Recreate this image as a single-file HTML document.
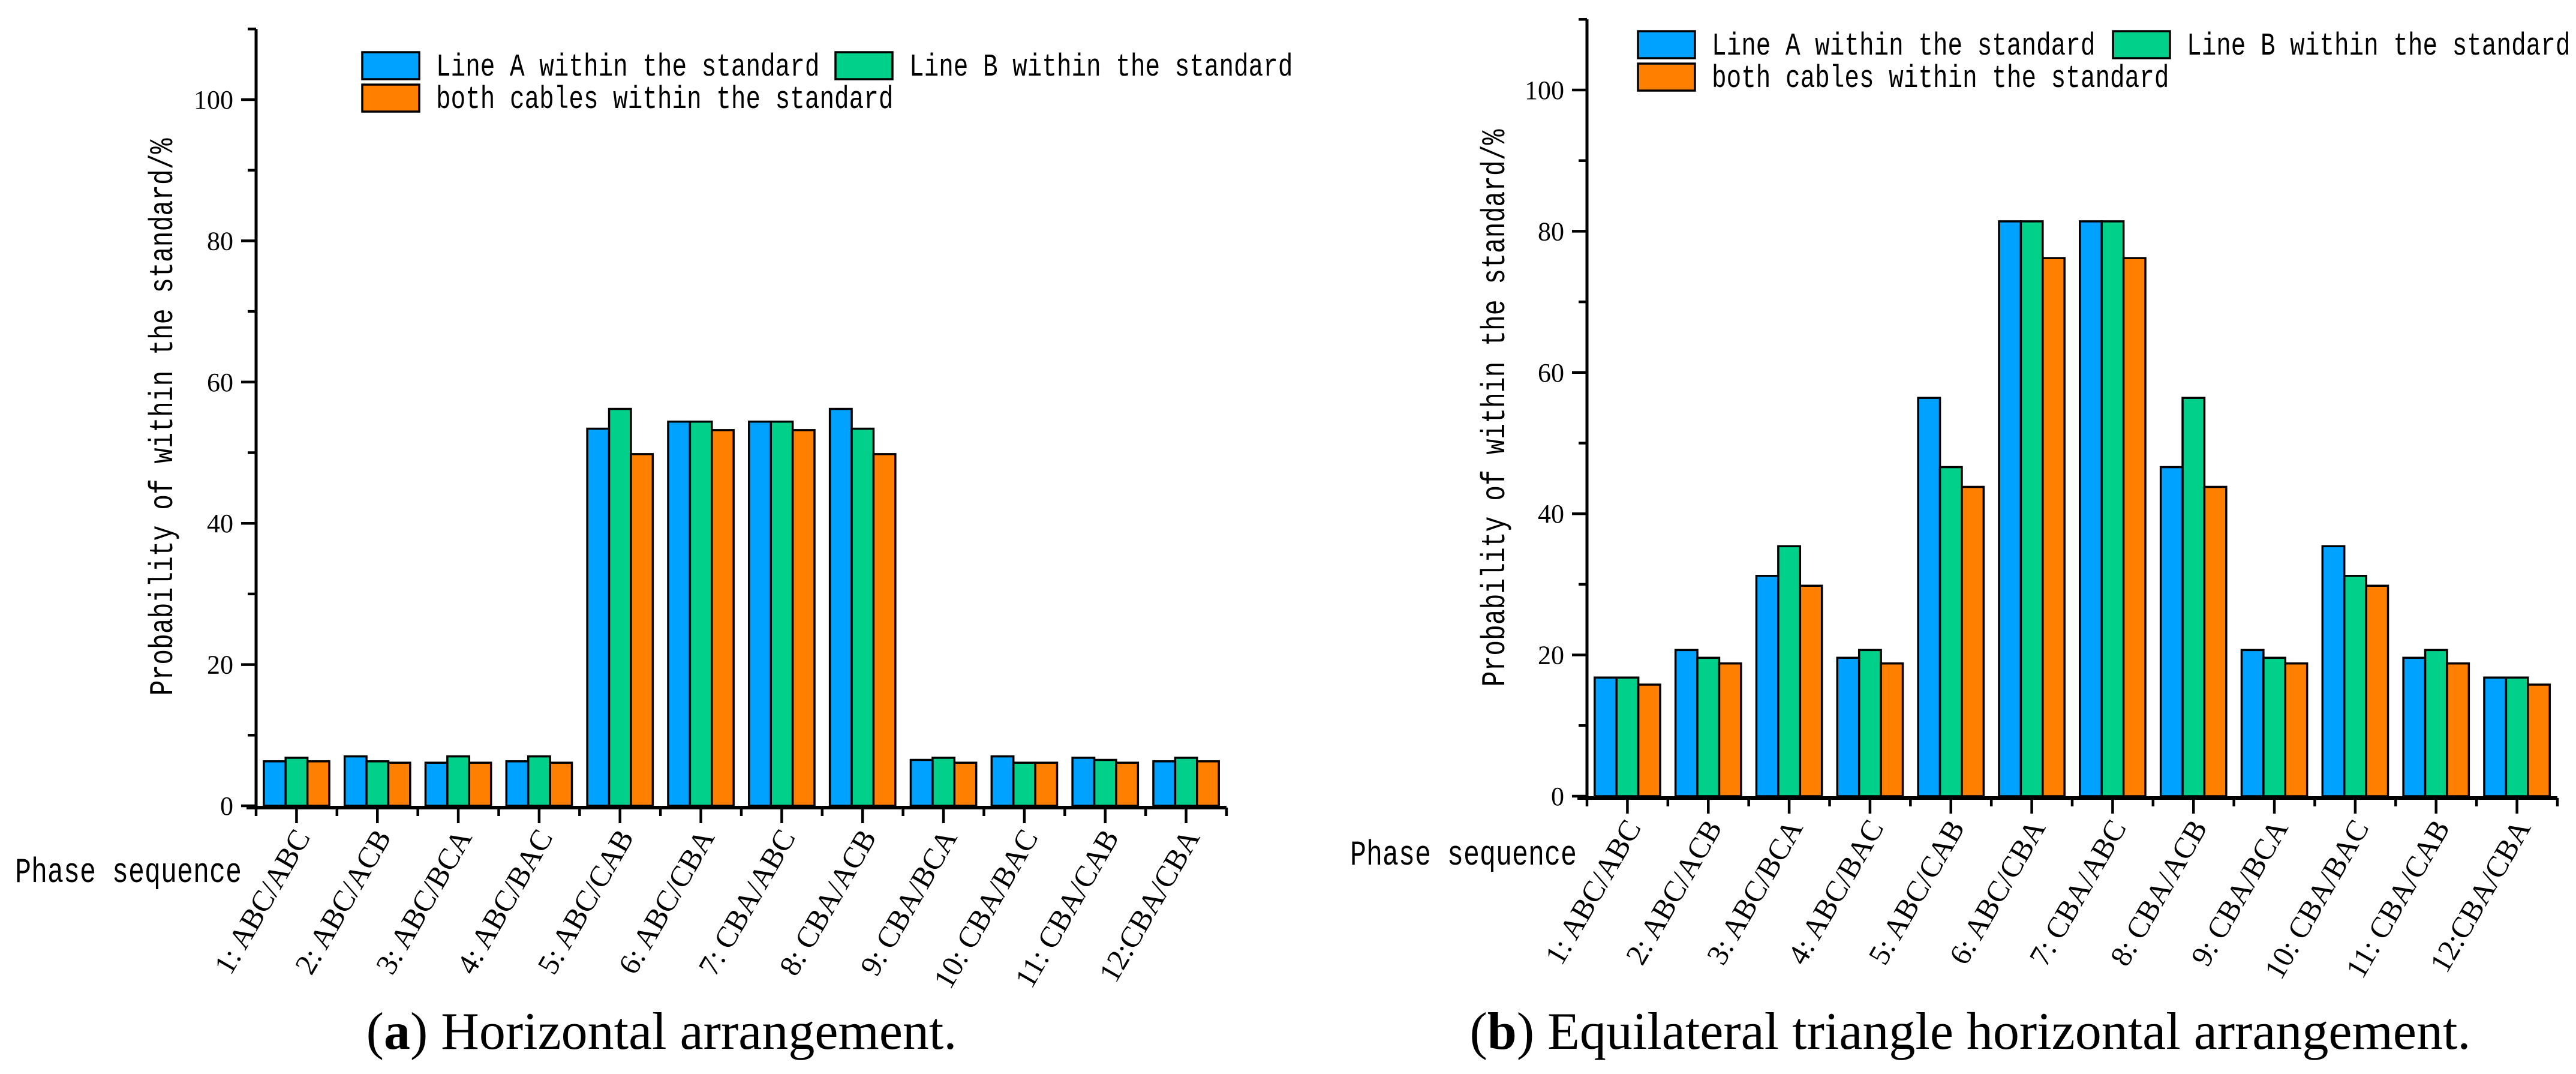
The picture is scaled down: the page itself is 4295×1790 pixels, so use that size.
<!DOCTYPE html>
<html><head><meta charset="utf-8"><style>
html,body{margin:0;padding:0;background:#fff;width:4295px;height:1790px;overflow:hidden}
svg text{font-family:"Liberation Serif",serif}
.mono{font-family:"Liberation Mono",monospace}
</style></head><body>
<svg id="fig" width="4295" height="1790" viewBox="0 0 4295 1790" xmlns="http://www.w3.org/2000/svg"></svg>
<script>
const categories = ["1: ABC/ABC","2: ABC/ACB","3: ABC/BCA","4: ABC/BAC","5: ABC/CAB","6: ABC/CBA","7: CBA/ABC","8: CBA/ACB","9: CBA/BCA","10: CBA/BAC","11: CBA/CAB","12:CBA/CBA"];
const seriesNames = ["Line A within the standard","Line B within the standard","both cables within the standard"];
const yTicks = [0,20,40,60,80,100];
const aLineA = [6.3,7.0,6.1,6.3,53.4,54.4,54.4,56.2,6.5,7.0,6.8,6.3];
const aLineB = [6.8,6.3,7.0,7.0,56.2,54.4,54.4,53.4,6.8,6.1,6.5,6.8];
const aBoth  = [6.3,6.1,6.1,6.1,49.8,53.2,53.2,49.8,6.1,6.1,6.1,6.3];
const bLineA = [16.8,20.7,31.2,19.6,56.4,81.4,81.4,46.6,20.7,35.4,19.6,16.8];
const bLineB = [16.8,19.6,35.4,20.7,46.6,81.4,81.4,56.4,19.6,31.2,20.7,16.8];
const bBoth  = [15.8,18.8,29.8,18.8,43.8,76.2,76.2,43.8,18.8,29.8,18.8,15.8];
const colors = ["#00A2FF","#00D08A","#FF8000"];
const NS="http://www.w3.org/2000/svg";
const svg=document.getElementById('fig');
function mk(tag,attrs,parent,text){const e=document.createElementNS(NS,tag);for(const k in attrs)e.setAttribute(k,attrs[k]);if(text!==undefined)e.textContent=text;(parent||svg).appendChild(e);return e;}

function chart(cfg){
  const g=mk('g',{});
  
  
  const x0=cfg.x0,x1=cfg.x0+1618,y0=cfg.y0,yTop=cfg.y0-110*11.77;
  const ys=v=>y0-v*11.77;
  const n=categories.length,cw=(x1-x0)/n;
  const xc=i=>x0+cw*(i+0.5);
  const data=[cfg.a,cfg.b,cfg.c];
  const bw=cw*0.81/3;
  for(let s=0;s<3;s++){
    for(let i=0;i<n;i++){
      const bx=xc(i)-cw*0.405+s*bw;
      const r=mk('rect',{x:bx,y:ys(data[s][i]),width:bw,height:y0-ys(data[s][i]),fill:colors[s],stroke:'#000','stroke-width':3.5},g);
      
      
    }
  }
  const ya=mk('line',{x1:x0,y1:yTop,x2:x0,y2:y0+3,stroke:'#000','stroke-width':5},g);
  
  
  const xa=mk('line',{x1:x0-16,y1:y0+3,x2:x1,y2:y0+3,stroke:'#000','stroke-width':6},g);
  
  
  for(let v=0;v<=110;v+=10){
    const major=v%20===0;
    mk('line',{x1:x0,y1:ys(v),x2:x0-(major?25:14),y2:ys(v),stroke:'#000','stroke-width':4.5},g);
  }
  yTicks.forEach(v=>{
    const t=mk('text',{x:x0-38,y:ys(v)+15,'text-anchor':'end','font-size':44},g,String(v));
    
    
  });
  for(let i=0;i<=n;i++){
    mk('line',{x1:x0+cw*i,y1:y0+3,x2:x0+cw*i,y2:y0+17,stroke:'#000','stroke-width':4.5},g);
  }
  categories.forEach((c,i)=>{
    mk('line',{x1:xc(i),y1:y0+3,x2:xc(i),y2:y0+29,stroke:'#000','stroke-width':4.5},g);
    const t=mk('text',{x:0,y:0,'text-anchor':'end','font-size':50,transform:`translate(${xc(i)+24},${y0+52}) rotate(-60)`},g,c);
    
    
  });
  const yt=mk('text',{class:'mono','text-anchor':'middle','font-size':43,transform:`translate(${cfg.ytx},${cfg.yty}) rotate(-90) scale(1,1.3)`},g,'Probability of within the standard/%');
  
  
  const xt=mk('text',{class:'mono',x:0,y:0,'font-size':45,transform:`translate(${cfg.psx},${cfg.psy}) scale(1,1.3)`},g,'Phase sequence');
  
  
  const L=cfg.leg;
  const pos=[[L.x1,L.r1],[L.x2,L.r1],[L.x1,L.r2]];
  pos.forEach((p,s)=>{
    const lg=mk('g',{},g);
    
    
    mk('rect',{x:p[0],y:p[1],width:95,height:45,fill:colors[s],stroke:'#000','stroke-width':3.5},lg);
    mk('text',{class:'mono',x:0,y:0,'font-size':41,transform:`translate(${p[0]+123},${p[1]+39}) scale(1,1.3)`},lg,seriesNames[s]);
  });
  const cap=mk('text',{x:cfg.capx,y:1748,'text-anchor':'middle','font-size':88},g);
  
  
  mk('tspan',{},cap,'(');
  mk('tspan',{'font-weight':'bold'},cap,cfg.capL);
  mk('tspan',{},cap,') '+cfg.capT);
}
chart({name:'chart-a',x0:427,y0:1343,a:aLineA,b:aLineB,c:aBoth,ytx:287,yty:695,psx:25,psy:1470,
  leg:{x1:604,x2:1393,r1:87,r2:141},capx:1103,capL:'a',capT:'Horizontal arrangement.'});
chart({name:'chart-b',x0:2646,y0:1327,a:bLineA,b:bLineB,c:bBoth,ytx:2508,yty:680,psx:2251,psy:1441,
  leg:{x1:2731,x2:3523,r1:52,r2:106},capx:3285,capL:'b',capT:'Equilateral triangle horizontal arrangement.'});
</script>
</body></html>
